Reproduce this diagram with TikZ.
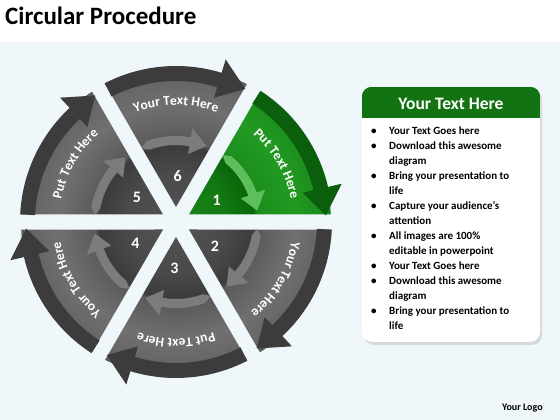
\documentclass[tikz,border=0pt]{standalone}
\usepackage{fontspec}
\setmainfont{Carlito}
\usetikzlibrary{positioning}
\usetikzlibrary{calc}
\usetikzlibrary{decorations.text}
\usetikzlibrary{shadows}

\definecolor{bgblue}{HTML}{EFF7FB}
\definecolor{bandgray}{HTML}{3C3C3C}
\definecolor{arrowgray}{HTML}{7C7C7C}
\definecolor{bandgreen}{HTML}{0B5E0B}
\definecolor{arrowgreen}{HTML}{5CBF5C}
\definecolor{headgreen}{HTML}{127312}
\definecolor{gA}{HTML}{555555}
\definecolor{gB}{HTML}{4A4A4A}
\definecolor{gC}{HTML}{3C3C3C}
\definecolor{gD}{HTML}{5A5A5A}
\definecolor{gE}{HTML}{707070}
\definecolor{gF}{HTML}{666666}
\definecolor{gG}{HTML}{5A5A5A}
\definecolor{kA}{HTML}{1A861A}
\definecolor{kB}{HTML}{127A12}
\definecolor{kC}{HTML}{0A660A}
\definecolor{kD}{HTML}{1B8C1B}
\definecolor{kE}{HTML}{229A22}
\definecolor{kF}{HTML}{1C8E1C}
\definecolor{kG}{HTML}{178317}

\pgfdeclareradialshading{grayslice}{\pgfpoint{0bp}{0bp}}{color(0bp)=(gA); color(8bp)=(gB); color(12.4bp)=(gC); color(13.2bp)=(gD); color(19bp)=(gE); color(23bp)=(gF); color(25bp)=(gG); color(50bp)=(gG)}
\pgfdeclareradialshading{greenslice}{\pgfpoint{0bp}{0bp}}{color(0bp)=(kA); color(8bp)=(kB); color(12.4bp)=(kC); color(13.2bp)=(kD); color(19bp)=(kE); color(23bp)=(kF); color(25bp)=(kG); color(50bp)=(kG)}

% one slice of the wheel: angle, shading, band colour, arrow colour, label, number
\newcommand{\wheelpart}[6]{%
  \begin{scope}
    \clip ({#1+30}:15) -- ({#1+2.8}:155) arc[start angle=#1+2.8, end angle=#1+57.2, radius=155] -- cycle;
    \shade[shading=#2] (0,0) circle (155);
  \end{scope}
  \fill[#4] ({#1+55}:81.5) -- ({#1+50}:86) arc[start angle=#1+50, end angle=#1+20, radius=86]
    -- ({#1+20}:95) -- ({#1+8}:82) -- ({#1+20}:69) -- ({#1+20}:77)
    arc[start angle=#1+20, end angle=#1+50, radius=77] -- cycle;
  \fill[#3] ({#1+57.2}:141) arc[start angle=#1+57.2, end angle=#1+13, radius=141]
    -- ({#1+13}:130) -- ({#1+2.5}:150) -- ({#1+13}:170) -- ({#1+13}:156)
    arc[start angle=#1+13, end angle=#1+57.2, radius=156] -- cycle;
  \path[decorate, decoration={text along path, text align=center,
      text={|\color{white}\bfseries\fontsize{13.5}{13.5}\selectfont|#5}}]
    ({#1+58}:117) arc[start angle=#1+58, end angle=#1+2, radius=117];
  \node[numtext] (num#6) at ({#1+28}:46) {#6};
}

\begin{document}
\begin{tikzpicture}[x=1pt, y=1pt,
                    numtext/.style={text=white, font=\bfseries\fontsize{16}{16}\selectfont},
                    titletext/.style={inner sep=0pt, font=\bfseries\fontsize{25}{25}\selectfont},
                    logotext/.style={inner sep=0pt, font=\bfseries\fontsize{10}{10}\selectfont},
                    panelbox/.style={rectangle, rounded corners=10pt, fill=white, minimum width=178pt, minimum height=255pt,
                                     drop shadow={shadow xshift=2pt, shadow yshift=-3pt, opacity=0.25}},
                    headtext/.style={inner sep=0pt, text=white, font=\bfseries\fontsize{17.5}{17.5}\selectfont},
                    listtext/.style={inner sep=0pt, font=\bfseries\fontsize{11}{15}\selectfont},
                   ]
  \useasboundingbox (0,0) rectangle (560,420);
  \fill[white] (0,0) rectangle (560,420);
  \fill[bgblue] (0,0) rectangle (560,378);

  %Nodes
  \node[titletext, anchor=base west] (title) at (5,395) {Circular Procedure};
  \node[logotext, anchor=base west] (logo) at (502,9) {Your Logo};

  %Wheel
  \begin{scope}[shift={(176,198)}]
    \wheelpart{0}{greenslice}{bandgreen}{arrowgreen}{Put Text Here}{1}
    \wheelpart{-60}{grayslice}{bandgray}{arrowgray}{Your Text Here}{2}
    \wheelpart{-120}{grayslice}{bandgray}{arrowgray}{Put Text Here}{3}
    \wheelpart{-180}{grayslice}{bandgray}{arrowgray}{Your Text Here}{4}
    \wheelpart{-240}{grayslice}{bandgray}{arrowgray}{Put Text Here}{5}
    \wheelpart{-300}{grayslice}{bandgray}{arrowgray}{Your Text Here}{6}
  \end{scope}

  %Panel
  \node[panelbox] (panel) at (451,205.5) {};
  \begin{scope}
    \clip[rounded corners=10pt] (panel.south west) rectangle (panel.north east);
    \fill[headgreen] (panel.north west) rectangle ($(panel.north east)+(0,-31)$);
  \end{scope}
  \node[headtext, anchor=base] (head) at (451,310) {Your Text Here};
  \node[listtext, anchor=base west] (list) at (371,285) {%
    \begin{tabular}[t]{@{}p{18pt}@{}l@{}}
      \textbullet & Your Text Goes here\\
      \textbullet & Download this awesome\\
                  & diagram\\
      \textbullet & Bring your presentation to\\
                  & life\\
      \textbullet & Capture your audience’s\\
                  & attention\\
      \textbullet & All images are 100\%\\
                  & editable in powerpoint\\
      \textbullet & Your Text Goes here\\
      \textbullet & Download this awesome\\
                  & diagram\\
      \textbullet & Bring your presentation to\\
                  & life
    \end{tabular}};
\end{tikzpicture}
\end{document}
